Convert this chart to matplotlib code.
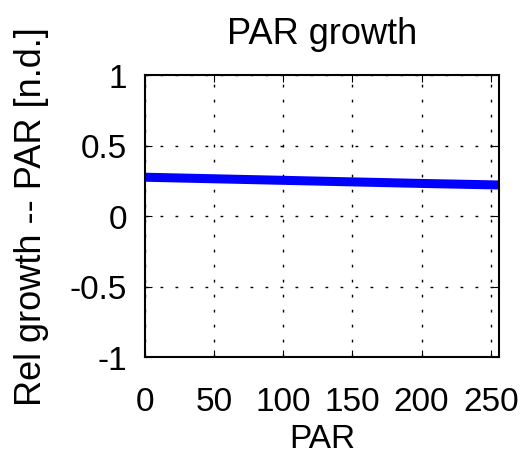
import matplotlib.pyplot as plt

# PAR values and relative growth
par = [0, 50, 100, 150, 200, 256]
rel_growth = [0.275, 0.264, 0.253, 0.242, 0.231, 0.22]

x_ticks = [0, 50, 100, 150, 200, 250]
y_ticks = [-1, -0.5, 0, 0.5, 1]
y_ticklabels = ['-1', '-0.5', '0', '0.5', '1']

plt.rcParams['font.family'] = ['Liberation Sans', 'DejaVu Sans']

fig = plt.figure(figsize=(5.24, 4.6), dpi=100)
ax = fig.add_axes([145 / 524, 1 - 358 / 460, 354 / 524, 282 / 460])

ax.plot(par, rel_growth, color='#0000ff', linewidth=6.5, solid_capstyle='butt')

ax.set_xlim(0, 256)
ax.set_ylim(-1, 1)
ax.set_xticks(x_ticks)
ax.set_yticks(y_ticks)
ax.set_yticklabels(y_ticklabels)
ax.grid(True, color='black', linestyle=(0, (2, 8.8)), linewidth=1.0)
ax.tick_params(direction='in', top=True, right=True, labelsize=24, length=5)
ax.tick_params(axis='x', pad=21)
ax.tick_params(axis='y', pad=13)
for s in ax.spines.values():
    s.set_linewidth(1.5)

ax.set_title('PAR growth', fontsize=26, pad=23)
ax.set_xlabel('PAR', fontsize=24, labelpad=4)
ax.set_ylabel('Rel growth -- PAR [n.d.]', fontsize=26, labelpad=15)

plt.savefig('out.png', dpi=100)
